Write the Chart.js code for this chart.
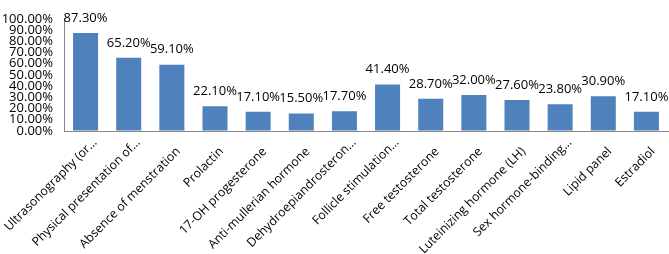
<!DOCTYPE html>
<html>
<head>
<meta charset="utf-8">
<script src="https://cdn.jsdelivr.net/npm/chart.js@4"></script>
<style>
  body { margin: 0; background: #fff; }
  #chart { display: block; }
</style>
</head>
<body>
<canvas id="chart" width="669" height="254"></canvas>
<script>
const categories = [
  'Ultrasonography (or…',
  'Physical presentation of…',
  'Absence of menstration',
  'Prolactin',
  '17-OH progesterone',
  'Anti-mullerian hormone',
  'Dehydroepiandrosteron…',
  'Follicle stimulation…',
  'Free testosterone',
  'Total testosterone',
  'Luteinizing hormone (LH)',
  'Sex hormone-binding…',
  'Lipid panel',
  'Estradiol'
];
const percentages = [87.3, 65.2, 59.1, 22.1, 17.1, 15.5, 17.7, 41.4, 28.7, 32.0, 27.6, 23.8, 30.9, 17.1];
const yTicks = [0, 10, 20, 30, 40, 50, 60, 70, 80, 90, 100];

const fontFamily = '"Open Sans", sans-serif';

// etiquetas de valor acima das barras
const valueLabels = {
  id: 'valueLabels',
  afterDatasetsDraw(chart) {
    const ctx = chart.ctx;
    const meta = chart.getDatasetMeta(0);
    ctx.save();
    ctx.font = '13px ' + fontFamily;
    ctx.fillStyle = '#000';
    ctx.textAlign = 'center';
    ctx.textBaseline = 'middle';
    meta.data.forEach((bar, i) => {
      ctx.fillText(percentages[i].toFixed(2) + '%', bar.x, bar.y - 15);
    });
    ctx.restore();
  }
};

// rótulos do eixo x girados 45°, ancorados no fim do texto
const rotatedLabels = {
  id: 'rotatedLabels',
  afterDraw(chart) {
    const ctx = chart.ctx;
    const xs = chart.scales.x;
    ctx.save();
    ctx.font = '12.3px ' + fontFamily;
    ctx.fillStyle = '#000';
    ctx.textAlign = 'right';
    ctx.textBaseline = 'alphabetic';
    categories.forEach((label, i) => {
      const cx = xs.getPixelForTick(i);
      const cut = label.endsWith('…');
      const px = cx + (cut ? 12 : 9);
      const py = xs.top + (cut ? 12 : 21);
      ctx.save();
      ctx.translate(px, py);
      ctx.rotate(-Math.PI / 4);
      ctx.fillText(label, 0, 0);
      ctx.restore();
    });
    ctx.restore();
  }
};

new Chart(document.getElementById('chart').getContext('2d'), {
  type: 'bar',
  data: {
    labels: categories,
    datasets: [{
      data: percentages,
      backgroundColor: '#4F81BD',
      borderWidth: 0,
      barPercentage: 0.58,
      categoryPercentage: 1
    }]
  },
  options: {
    responsive: false,
    animation: false,
    layout: { padding: { top: 7, right: 1, left: 0, bottom: 0 } },
    plugins: {
      legend: { display: false },
      tooltip: { enabled: false }
    },
    scales: {
      x: {
        grid: { display: true, drawOnChartArea: false, drawTicks: false },
        border: { display: true, color: '#888888', width: 1 },
        ticks: { display: false },
        afterFit(scale) {
          scale.height = 123;
          scale.paddingLeft = 0;
          scale.paddingRight = 0;
        }
      },
      y: {
        min: 0,
        max: 100,
        afterBuildTicks(scale) { scale.ticks = yTicks.map(v => ({ value: v })); },
        grid: { display: true, drawOnChartArea: false, drawTicks: false },
        border: { display: true, color: '#888888', width: 1 },
        ticks: {
          color: '#000',
          font: { family: fontFamily, size: 13 },
          padding: 11,
          autoSkip: false,
          callback: v => v.toFixed(2) + '%'
        },
        afterFit(scale) { scale.width = 64; }
      }
    }
  },
  plugins: [valueLabels, rotatedLabels]
});
</script>
</body>
</html>
